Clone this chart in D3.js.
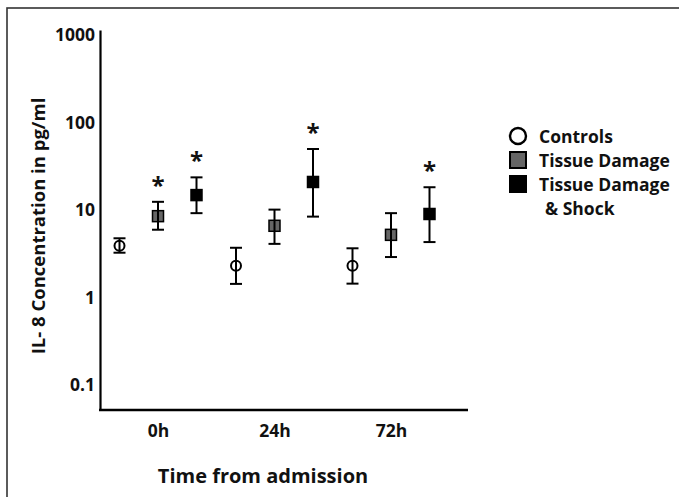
<!DOCTYPE html>
<html>
<head>
<meta charset="utf-8">
<script src="https://cdn.jsdelivr.net/npm/d3@7"></script>
<style>
  body { margin: 0; background: #fff; }
  text { font-family: "Open Sans", sans-serif; font-weight: bold; fill: #111; }
</style>
</head>
<body>
<div id="myChart"></div>
<script>
// data (pg/ml)
var times = ["0h", "24h", "72h"];
var series = ["Controls", "Tissue Damage", "Tissue Damage & Shock"];
var yTicks = [0.1, 1, 10, 100, 1000];

var controlsMean = [3.9, 2.3, 2.3];
var controlsLow  = [3.25, 1.43, 1.44];
var controlsHigh = [4.75, 3.7, 3.65];

var damageMean = [8.5, 6.6, 5.2];
var damageLow  = [5.95, 4.1, 2.9];
var damageHigh = [12.4, 10.1, 9.2];

var shockMean = [14.8, 20.9, 9.0];
var shockLow  = [9.2, 8.4, 4.3];
var shockHigh = [23.6, 49.8, 18.2];

// significance stars
var damageSig = [true, false, false];
var shockSig  = [true, true, true];

var W = 679, H = 497;

var svg = d3.select("#myChart")
    .append("svg")
    .attr("width", W).attr("height", H);

// outer frame
svg.append("rect")
    .attr("x", 7).attr("y", 8)
    .attr("width", W).attr("height", H)
    .attr("fill", "none")
    .attr("stroke", "#333")
    .attr("stroke-width", 1.6);

var y = d3.scaleLog()
    .domain([0.0518, 1140])
    .range([410, 30]);

var x = d3.scalePoint()
    .domain(times)
    .range([158, 391]);

var offset = d3.scalePoint()
    .domain(series)
    .range([-38.5, 38.5]);

// y axis
var yAxis = svg.append("g")
    .attr("transform", "translate(100,0)")
    .call(d3.axisLeft(y).tickValues(yTicks).tickSize(0).tickSizeOuter(0).tickPadding(5)
        .tickFormat(function(d) { return String(d); }));
yAxis.select(".domain").attr("stroke", "#000").attr("stroke-width", 2.2);
yAxis.selectAll("text")
    .style("font-size", "17.5px")
    .style("font-family", "Open Sans, sans-serif")
    .style("font-weight", "bold")
    .attr("fill", "#111");

// x axis
var xAxis = svg.append("g")
    .attr("transform", "translate(0,410)")
    .call(d3.axisBottom(x).tickSize(0).tickPadding(15));
xAxis.select(".domain").remove();
xAxis.selectAll("text")
    .style("font-size", "17.5px")
    .style("font-family", "Open Sans, sans-serif")
    .style("font-weight", "bold")
    .attr("fill", "#111");
svg.append("line")
    .attr("x1", 99).attr("x2", 468)
    .attr("y1", 410).attr("y2", 410)
    .attr("stroke", "#000").attr("stroke-width", 2.4);

// titles
svg.append("text")
    .attr("transform", "translate(37,226) rotate(-90)")
    .attr("text-anchor", "middle")
    .attr("dominant-baseline", "central")
    .style("font-size", "18.5px")
    .text("IL- 8 Concentration in pg/ml");

svg.append("text")
    .attr("x", 263).attr("y", 475)
    .attr("text-anchor", "middle")
    .attr("dominant-baseline", "central")
    .style("font-size", "20px")
    .text("Time from admission");

// build rows
function rows(name, mean, low, high, sig) {
    return times.map(function(t, i) {
        return { s: name, t: t, v: mean[i], lo: low[i], hi: high[i], sig: sig ? sig[i] : false };
    });
}
var all = [].concat(
    rows(series[0], controlsMean, controlsLow, controlsHigh, null),
    rows(series[1], damageMean, damageLow, damageHigh, damageSig),
    rows(series[2], shockMean, shockLow, shockHigh, shockSig)
);

function px(d) { return x(d.t) + offset(d.s); }

var fills = { "Controls": "#fff", "Tissue Damage": "#666", "Tissue Damage & Shock": "#000" };
var sq = 11;

// markers
var pts = svg.append("g");
pts.selectAll("circle")
    .data(all.filter(function(d) { return d.s === series[0]; }))
    .enter().append("circle")
    .attr("cx", px).attr("cy", function(d) { return y(d.v); })
    .attr("r", 5)
    .attr("fill", "#fff").attr("stroke", "#000").attr("stroke-width", 2);

pts.selectAll("rect")
    .data(all.filter(function(d) { return d.s !== series[0]; }))
    .enter().append("rect")
    .attr("x", function(d) { return px(d) - sq / 2; })
    .attr("y", function(d) { return y(d.v) - sq / 2; })
    .attr("width", sq).attr("height", sq)
    .attr("fill", function(d) { return fills[d.s]; })
    .attr("stroke", "#000").attr("stroke-width", 1.5);

// error bars on top
var err = svg.append("g").attr("stroke", "#000").attr("stroke-width", 2);
err.selectAll(".v").data(all).enter().append("line")
    .attr("x1", px).attr("x2", px)
    .attr("y1", function(d) { return y(d.lo); })
    .attr("y2", function(d) { return y(d.hi); });
err.selectAll(".top").data(all).enter().append("line")
    .attr("x1", function(d) { return px(d) - 6; })
    .attr("x2", function(d) { return px(d) + 6; })
    .attr("y1", function(d) { return y(d.hi); })
    .attr("y2", function(d) { return y(d.hi); });
err.selectAll(".bot").data(all).enter().append("line")
    .attr("x1", function(d) { return px(d) - 6; })
    .attr("x2", function(d) { return px(d) + 6; })
    .attr("y1", function(d) { return y(d.lo); })
    .attr("y2", function(d) { return y(d.lo); });

// stars
svg.selectAll(".star")
    .data(all.filter(function(d) { return d.sig; }))
    .enter().append("text")
    .attr("x", px)
    .attr("y", function(d) { return y(d.hi) - 8; })
    .attr("text-anchor", "middle")
    .style("font-size", "24px")
    .text("*");

// legend
var leg = svg.append("g");
leg.append("circle")
    .attr("cx", 518).attr("cy", 136).attr("r", 8)
    .attr("fill", "#fff").attr("stroke", "#000").attr("stroke-width", 2.4);
leg.append("rect")
    .attr("x", 510).attr("y", 152).attr("width", 16).attr("height", 16)
    .attr("fill", "#666").attr("stroke", "#000").attr("stroke-width", 2);
leg.append("rect")
    .attr("x", 510).attr("y", 176).attr("width", 16).attr("height", 16)
    .attr("fill", "#000").attr("stroke", "#000").attr("stroke-width", 2);

var legText = [["Controls", 539, 136], ["Tissue Damage", 539, 160], ["Tissue Damage", 539, 184], ["& Shock", 545, 208]];
leg.selectAll("text")
    .data(legText)
    .enter().append("text")
    .attr("x", function(d) { return d[1]; })
    .attr("y", function(d) { return d[2]; })
    .attr("dominant-baseline", "central")
    .style("font-size", "17.5px")
    .text(function(d) { return d[0]; });
</script>
</body>
</html>
